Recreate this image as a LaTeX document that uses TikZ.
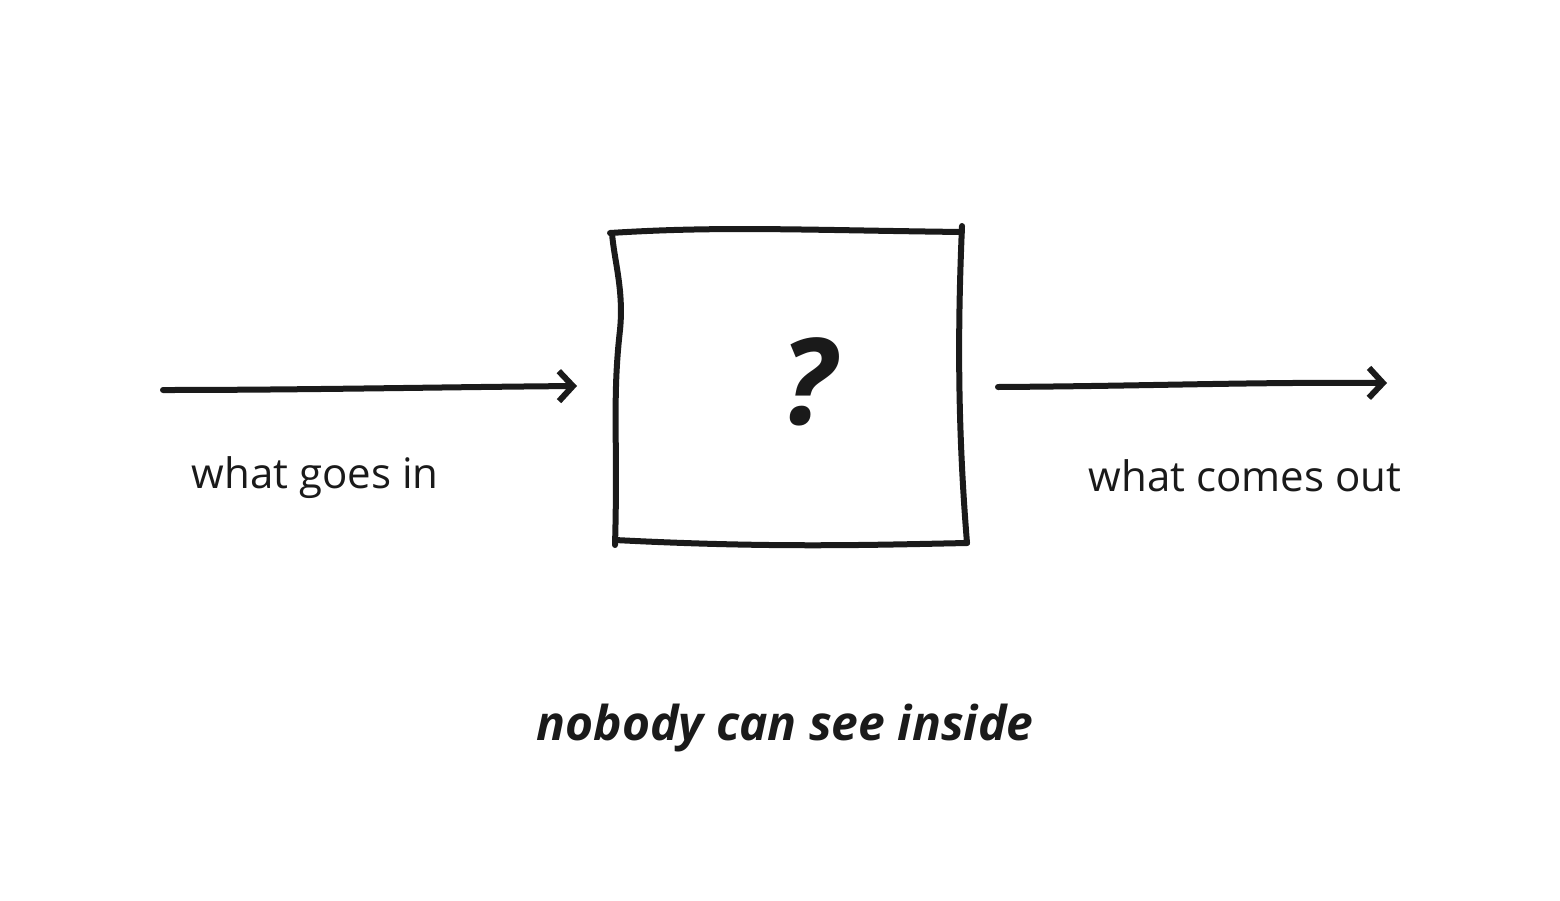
\documentclass[tikz,border=0pt]{standalone}
\usepackage{fontspec}
\setmainfont{Open Sans}
\usetikzlibrary{arrows.meta}
\tikzset{
  sketch/.style={line width=6pt, line cap=round, line join=round, color={rgb,255:red,26;green,26;blue,26}},
  flow/.style={sketch, -{Straight Barb[length=14pt, width=30pt, line width=6pt]}},
  label/.style={inner sep=0pt, font=\fontsize{42}{50}\selectfont, color={rgb,255:red,26;green,26;blue,26}}
}
\begin{document}
\begin{tikzpicture}[x=1pt,y=1pt,yscale=-1]
\useasboundingbox (0,0) rectangle (1560,900);

% the box
\draw [sketch] (610,233) .. controls (720,226) and (800,230) .. (962,232);
\draw [sketch] (962,226) .. controls (958,320) and (957,420) .. (967,543);
\draw [sketch] (967,543) .. controls (870,545) and (770,548) .. (615,540);
\draw [sketch] (615,545) .. controls (618,440) and (612,400) .. (620,330) .. controls (624,290) and (614,260) .. (612,233);
\node (box) at (788,386) {};
\node [label, font=\fontsize{120}{130}\selectfont\itshape\bfseries] (mark) at (808,382) {?};

% arrows
\coordinate (inL) at (163,390);
\coordinate (inR) at (577,386);
\coordinate (outL) at (998,387);
\coordinate (outR) at (1387,383);
\draw [flow] (inL) .. controls (300,390) and (450,387) .. (inR);
\draw [flow] (outL) .. controls (1150,386) and (1250,382) .. (outR);

% labels
\node [label] (in) at (315,478) {what goes in};
\node [label] (out) at (1245,476) {what comes out};
\node [label, font=\fontsize{48}{56}\selectfont\itshape\bfseries] (note) at (785,728) {nobody can see inside};
\end{tikzpicture}
\end{document}
